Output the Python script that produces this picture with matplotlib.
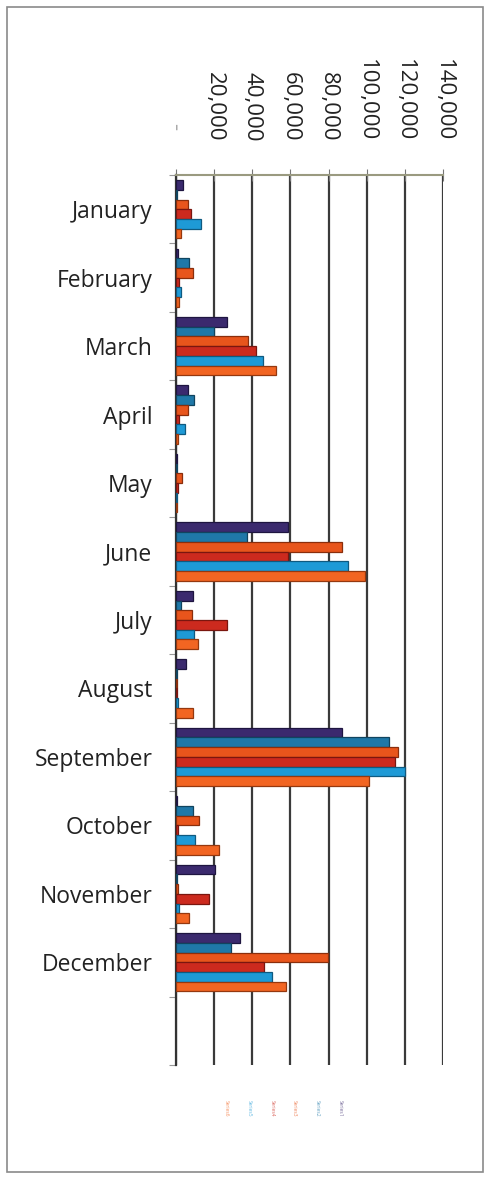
import numpy as np
from matplotlib import pyplot as plt
from matplotlib.patches import Rectangle

months = ['January', 'February', 'March', 'April', 'May', 'June', 'July',
          'August', 'September', 'October', 'November', 'December']
series_names = ['Series1', 'Series2', 'Series3', 'Series4', 'Series5', 'Series6']
colors = ['#3b2a6e', '#1f78a8', '#e8551c', '#cc2a1e', '#1e9ad6', '#f26522']
edges = ['#1e1540', '#10445f', '#8a2e0c', '#7a160f', '#0f5a80', '#95380f']

s1 = [3700, 800, 26500, 6500, 500, 58500, 9000, 5500, 87000, 500, 20500, 33500]
s2 = [500, 7000, 20000, 9500, 300, 37000, 2500, 500, 111500, 9000, 500, 29000]
s3 = [6500, 9000, 38000, 6500, 3000, 87000, 8500, 500, 116500, 12000, 1000, 79500]
s4 = [8000, 1500, 42000, 1500, 1000, 58800, 27000, 500, 114700, 1000, 17500, 46000]
s5 = [13000, 2500, 45500, 4500, 600, 90000, 9500, 1000, 120000, 10000, 1500, 50200]
s6 = [2600, 1800, 52500, 1000, 500, 99200, 11500, 9000, 101000, 22500, 6800, 57500]
values = [s1, s2, s3, s4, s5, s6]

xticks = [0, 20000, 40000, 60000, 80000, 100000, 120000, 140000]
xlabels = ['-  ', '20,000', '40,000', '60,000', '80,000', '100,000', '120,000', '140,000']

plt.rcParams['font.family'] = ['Open Sans', 'DejaVu Sans']
fig = plt.figure(figsize=(4.9, 11.78), dpi=100)
W, H = 490, 1178
ax = fig.add_axes([176 / W, 1 - 1065 / H, (443 - 176) / W, (1065 - 175) / H])

# border of the chart area
fig.patches.append(Rectangle((7 / W, 1 - 1172 / H), 476 / W, (1172 - 7) / H,
                             transform=fig.transFigure, fill=False,
                             edgecolor='#8a8a8a', lw=1.2))

h = 0.142
y = np.arange(len(months))
for j, vals in enumerate(values):
    ax.barh(y + (j - 2.5) * h, vals, height=h, color=colors[j],
            edgecolor=edges[j], linewidth=0.9, zorder=3)

ax.set_xlim(0, 140000)
ax.set_ylim(12.5, -0.5)
ax.set_axisbelow(True)
ax.grid(axis='x', color='#3a3a3a', lw=1.6, zorder=0)

ax.xaxis.tick_top()
ax.set_xticks(xticks)
ax.set_xticklabels(xlabels, rotation=-90, fontsize=16, color='#222222')
ax.tick_params(axis='x', direction='inout', length=8, color='#777777', pad=20)
ax.get_xticklabels()[0].set_color('#aaaaaa')

ax.set_yticks(np.arange(-0.5, 13, 1))
ax.set_yticklabels([])
ax.set_yticks(y, minor=True)
ax.set_yticklabels(months, minor=True, fontsize=16.5, color='#222222')
ax.tick_params(axis='y', which='major', length=5, color='#999999')
ax.tick_params(axis='y', which='minor', length=0, pad=17)

for s in ['right', 'bottom']:
    ax.spines[s].set_visible(False)
ax.spines['top'].set_color('#9a9a80')
ax.spines['top'].set_linewidth(1.5)
ax.spines['left'].set_color('#333333')
ax.spines['left'].set_linewidth(1.6)

# tiny rotated legend under the plot, last series first
leg_x = [226, 249, 272, 294, 317, 340]
for k, j in enumerate(range(5, -1, -1)):
    fig.text(leg_x[k] / W, 1 - 1108 / H, series_names[j], rotation=-90,
             fontsize=3.5, color=colors[j], alpha=0.7, ha='center', va='center')

plt.savefig('out.png', dpi=100)
